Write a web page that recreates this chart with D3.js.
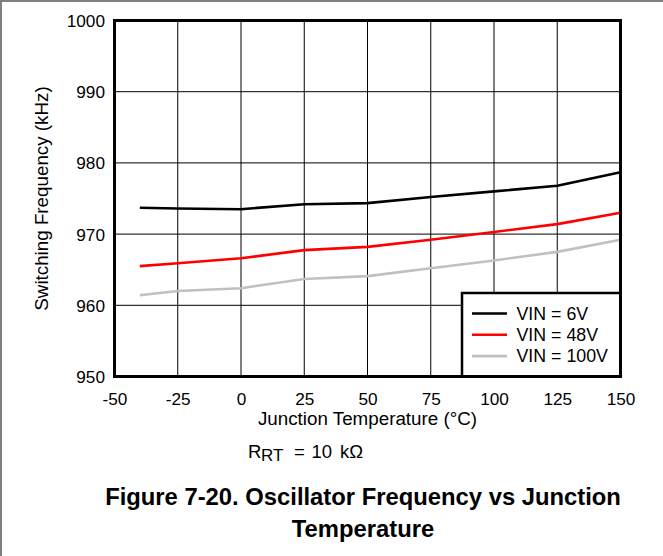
<!DOCTYPE html>
<html>
<head>
<meta charset="utf-8">
<script src="https://cdn.jsdelivr.net/npm/d3@7"></script>
<style>
  html, body { margin: 0; padding: 0; background: #fff; }
  svg { display: block; font-family: "Liberation Sans", Arial, Helvetica, sans-serif; }
</style>
</head>
<body>
<svg id="chart" width="663" height="556"></svg>
<script>
const temps = [-40, -25, 0, 25, 50, 75, 100, 125, 150];
const vin6 = [973.7, 973.6, 973.5, 974.2, 974.35, 975.2, 976.0, 976.8, 978.7];
const vin48 = [965.5, 965.9, 966.6, 967.75, 968.2, 969.2, 970.3, 971.4, 973.0];
const vin100 = [961.4, 962.0, 962.4, 963.7, 964.1, 965.2, 966.3, 967.5, 969.2];
const seriesNames = ["VIN = 6V", "VIN = 48V", "VIN = 100V"];
const seriesColors = ["#000000", "#ff0000", "#c0c0c0"];
const xTicks = [-50, -25, 0, 25, 50, 75, 100, 125, 150];
const yTicks = [950, 960, 970, 980, 990, 1000];

(function () {
const svg = d3.select("#chart");
const W = 663, H = 556;
const pL = 114.5, pR = 620.5, pT = 20.5, pB = 376.5;
const FF = "Liberation Sans, Arial, sans-serif";

const x = d3.scaleLinear().domain([-50, 150]).range([pL, pR]);
const y = d3.scaleLinear().domain([950, 1000]).range([pB, pT]);

// page frame (top and left gray lines)
svg.append("line").attr("x1", 0).attr("x2", W).attr("y1", 1).attr("y2", 1)
  .attr("stroke", "#808080").attr("stroke-width", 2);
svg.append("line").attr("x1", 1).attr("x2", 1).attr("y1", 0).attr("y2", H)
  .attr("stroke", "#808080").attr("stroke-width", 2);

// grid
const grid = svg.append("g");
grid.selectAll(".vg").data(xTicks.slice(1, -1)).join("line")
  .attr("x1", d => x(d)).attr("x2", d => x(d)).attr("y1", pT).attr("y2", pB)
  .attr("stroke", "#000").attr("stroke-width", 1);
grid.selectAll(".hg").data(yTicks.slice(1, -1)).join("line")
  .attr("x1", pL).attr("x2", pR).attr("y1", d => y(d)).attr("y2", d => y(d))
  .attr("stroke", "#000").attr("stroke-width", 1);

// axes (tick labels only)
const fmt = d => String(d);
const xAxis = d3.axisBottom(x).tickValues(xTicks).tickSize(0).tickPadding(0).tickFormat(fmt);
const gx = svg.append("g").attr("transform", `translate(0,${pB})`).call(xAxis);
gx.select(".domain").remove();
gx.selectAll("text").attr("font-size", 17.2).attr("fill", "#000")
  .attr("dy", null).attr("y", 28.5).attr("font-family", FF);

const yAxis = d3.axisLeft(y).tickValues(yTicks).tickSize(0).tickPadding(0).tickFormat(fmt);
const gy = svg.append("g").attr("transform", `translate(${pL},0)`).call(yAxis);
gy.select(".domain").remove();
gy.selectAll("text").attr("font-size", 17.2).attr("fill", "#000")
  .attr("x", -9.5).attr("dy", "0.35em").attr("font-family", FF);

// series lines
const data = [vin6, vin48, vin100];
const line = d3.line().x((d, i) => x(temps[i])).y(d => y(d));
const plot = svg.append("g");
data.forEach((s, k) => {
  plot.append("path").datum(s).attr("d", line)
    .attr("fill", "none").attr("stroke", seriesColors[k]).attr("stroke-width", 2.6)
    .attr("stroke-linejoin", "round");
});

// legend
const lg = svg.append("g");
lg.append("rect").attr("x", 462).attr("y", 293).attr("width", pR - 462).attr("height", pB - 293)
  .attr("fill", "#fff").attr("stroke", "#000").attr("stroke-width", 2.5);
seriesNames.forEach((n, k) => {
  const yy = 313.5 + k * 21.3;
  lg.append("line").attr("x1", 472).attr("x2", 507).attr("y1", yy).attr("y2", yy)
    .attr("stroke", seriesColors[k]).attr("stroke-width", 2.6);
  lg.append("text").attr("x", 516.5).attr("y", yy).attr("dy", "0.35em")
    .attr("font-size", 17.8).text(n);
});

// plot frame
svg.append("rect").attr("x", pL).attr("y", pT).attr("width", pR - pL).attr("height", pB - pT)
  .attr("fill", "none").attr("stroke", "#000").attr("stroke-width", 3);

// axis titles
svg.append("text").attr("x", (pL + pR) / 2).attr("y", 425).attr("text-anchor", "middle")
  .attr("font-size", 18.8).text("Junction Temperature (°C)");
svg.append("text").attr("transform", `translate(48,${(pT + pB) / 2}) rotate(-90)`)
  .attr("text-anchor", "middle").attr("font-size", 18.8).text("Switching Frequency (kHz)");

// note
const note = svg.append("text").attr("y", 458).attr("font-size", 18.5);
note.append("tspan").attr("x", 248).text("R");
note.append("tspan").attr("x", 261).attr("dy", 3).attr("font-size", 17).text("RT");
note.append("tspan").attr("x", 294).attr("dy", -3).text("=");
note.append("tspan").attr("x", 311.5).text("10");
note.append("tspan").attr("x", 340).text("kΩ");

// caption
svg.append("text").attr("x", 363).attr("y", 505).attr("text-anchor", "middle")
  .attr("font-size", 23.8).attr("font-weight", "bold").text("Figure 7-20. Oscillator Frequency vs Junction");
svg.append("text").attr("x", 363).attr("y", 537).attr("text-anchor", "middle")
  .attr("font-size", 23.8).attr("font-weight", "bold").text("Temperature");
})();
</script>
</body>
</html>
